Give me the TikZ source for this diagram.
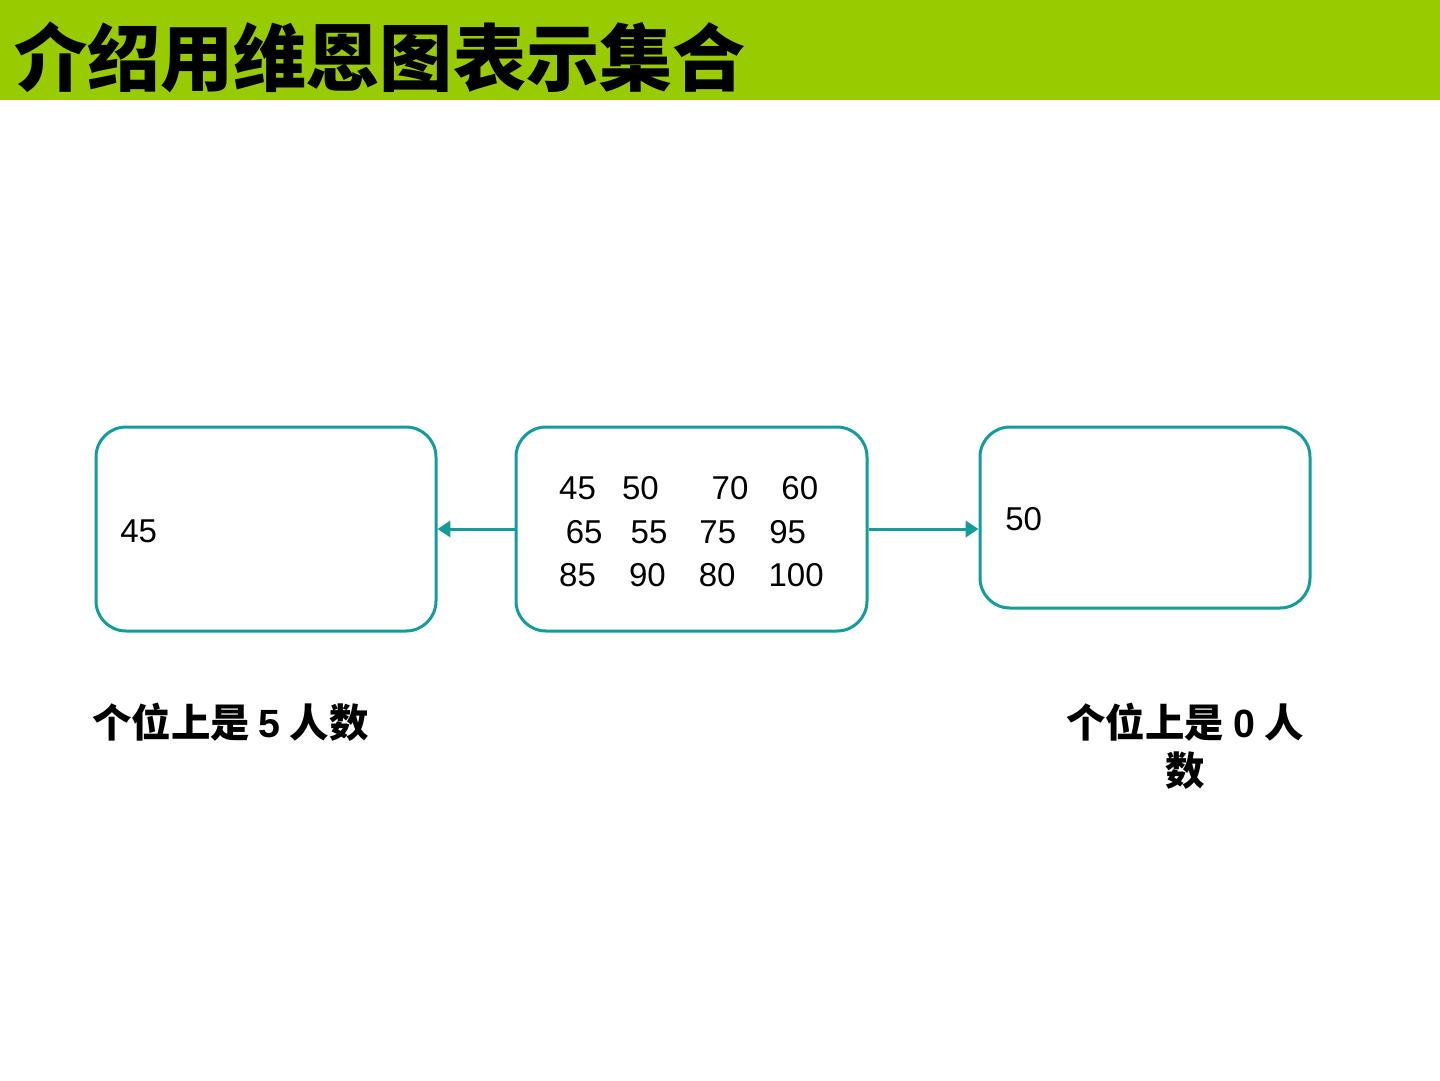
\documentclass[tikz,border=0pt]{standalone}
\usepackage{fontspec}
\setmainfont{Liberation Sans}
\newfontfamily\cjk{Noto Sans CJK SC}
\usepackage{xcolor}
\usepackage{tikz}
\usetikzlibrary{arrows.meta, positioning}
\definecolor{bargreen}{RGB}{153,204,0}
\definecolor{setteal}{RGB}{20,155,155}

\begin{document}
\begin{tikzpicture}[x=0.025cm, y=-0.025cm,
		setbox/.style={draw=setteal, line width=0.075cm, rounded corners=0.75cm, fill=white, inner sep=0pt},
		number/.style={font=\fontsize{23.5}{31}\selectfont, inner sep=0pt},
		caption/.style={font=\cjk\bfseries\fontsize{28}{34}\selectfont, inner sep=0pt, align=center},
		link/.style={draw=setteal, line width=0.075cm, -{Triangle[length=0.32cm, width=0.4cm]}}
		]
		\useasboundingbox (0,0) rectangle (1440,1080);
		\fill[bargreen] (0,0) rectangle (1440,100);
		\node [anchor=west, inner sep=0pt, font=\cjk\bfseries\fontsize{52}{56}\selectfont](title) at (14,57) {介绍用维恩图表示集合};
		
		\node [setbox, minimum width=340*0.025cm, minimum height=204*0.025cm](five) at (266,529) {};
		\node [setbox, minimum width=351*0.025cm, minimum height=204*0.025cm](all) at (691.5,529) {};
		\node [setbox, minimum width=330*0.025cm, minimum height=181*0.025cm](zero) at (1145,517.5) {};
		
		\node [number, align=left](allnums) at ([yshift=-2] all.center) {45\hspace{0.79em}50\hspace{1.6em}70\hspace{1em}60\\
			\hspace*{0.2em}65\hspace{0.85em}55\hspace{0.97em}75\hspace{1em}95\\
			85\hspace{1em}90\hspace{1em}80\hspace{1em}100};
		\node [number, anchor=west](fivenums) at (120,531) {45};
		\node [number, anchor=west](zeronums) at (1005,519) {50};
		
		\draw[link] (all.west) -- (five.east);
		\draw[link] (all.east) -- (all.east -| zero.west);
		
		\node [caption, anchor=west](fivelabel) at (92,722) {个位上是 {\normalfont\bfseries 5} 人数};
		\node [caption](zerolabel) at (1185,746) {个位上是 {\normalfont\bfseries 0} 人\\数};
		
	\end{tikzpicture}
\end{document}
